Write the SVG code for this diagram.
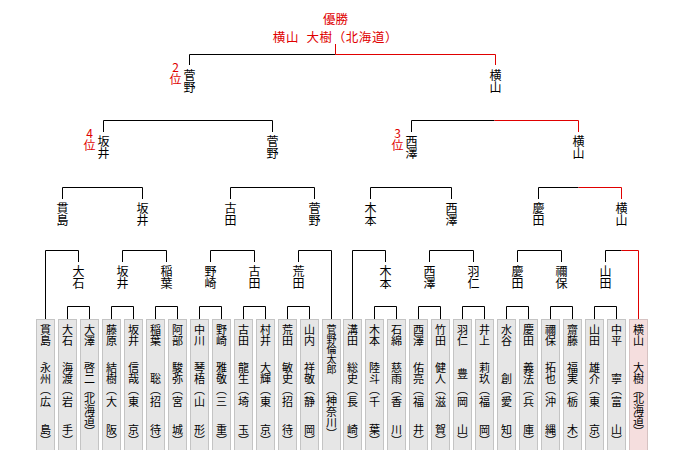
<svg xmlns="http://www.w3.org/2000/svg" width="680" height="450" viewBox="0 0 680 450">
<style>
.bx{fill:#e6e6e6;stroke:#c4c4c4;stroke-width:1}
.wb{fill:#f5dede;stroke:#d6c2c2;stroke-width:1}
.ln{fill:none;stroke:#000;stroke-width:1}
.rd{fill:none;stroke:#e00000;stroke-width:1}
text{font-family:"Noto Sans CJK JP","Noto Sans CJK SC",sans-serif;fill:#000}
.v{writing-mode:vertical-rl;text-anchor:start}
.nm{font-size:11px}
.sm{font-size:10px}
.lb{font-size:12px}
.rk{font-size:12px;fill:#e00000;text-orientation:upright}
.hd{font-size:12.5px;fill:#e00000;text-anchor:middle}
</style>
<rect width="680" height="450" fill="#fff"/>
<g id="connectors">
<path class="ln" d="M67.5 319V306.5H89.5V319M111.5 319V306.5H133.5V319M155.5 319V306.5H177.5V319M199.5 319V306.5H221.5V319M243.5 319V306.5H265.5V319M287.5 319V306.5H309.5V319M374.5 319V306.5H396.5V319M418.5 319V306.5H440.5V319M462.5 319V306.5H484.5V319M506.5 319V306.5H528.5V319M550.5 319V306.5H572.5V319M594.5 319V306.5H616.5V319"/>
<path class="ln" d="M45.5 319V250.5H78.5V262M122.5 262V250.5H166.5V262M210.5 262V250.5H254.5V262M298.5 262V250.5H331.5V319M352.5 319V250.5H385.5V262M429.5 262V250.5H473.5V262M517.5 262V250.5H561.5V262M605.5 262V250.5H621.5"/>
<path class="rd" d="M621.5 250.5H638.5V319"/>
<path class="ln" d="M62.5 199V187.5H142.5V199M230.5 199V187.5H314.5V199M370.5 199V187.5H451.5V199M538.5 199V187.5H578.5"/>
<path class="rd" d="M578.5 187.5H621.5V199"/>
<path class="ln" d="M103.5 132V120.5H272.5V132M411.5 132V120.5H494.5"/>
<path class="rd" d="M494.5 120.5H578.5V132"/>
<path class="ln" d="M189.5 65V54.5H335.5"/>
<path class="rd" d="M335.5 54.5H495.5V65M335.5 54.5V44"/>
</g>
<g id="champion"><text class="hd"><tspan x="335.5" y="23.5">優勝</tspan><tspan x="335.5" y="41.5" word-spacing="4" letter-spacing="0.6">横山 大樹（北海道）</tspan></text></g>
<g id="f1"><text class="rk v"><tspan x="175.5" y="61">2</tspan><tspan x="175.5" y="73">位</tspan></text><text class="lb v"><tspan x="189.5" y="69.5">菅</tspan><tspan x="189.5" y="81.5">野</tspan></text></g>
<g id="f2"><text class="lb v"><tspan x="495.5" y="69.5">横</tspan><tspan x="495.5" y="81.5">山</tspan></text></g>
<g id="s1"><text class="rk v"><tspan x="89.5" y="127">4</tspan><tspan x="89.5" y="139">位</tspan></text><text class="lb v"><tspan x="103.5" y="135.5">坂</tspan><tspan x="103.5" y="147.5">井</tspan></text></g>
<g id="s2"><text class="lb v"><tspan x="272.5" y="135.5">菅</tspan><tspan x="272.5" y="147.5">野</tspan></text></g>
<g id="s3"><text class="rk v"><tspan x="397.5" y="127">3</tspan><tspan x="397.5" y="139">位</tspan></text><text class="lb v"><tspan x="411.5" y="135.5">西</tspan><tspan x="411.5" y="147.5">澤</tspan></text></g>
<g id="s4"><text class="lb v"><tspan x="578.5" y="135.5">横</tspan><tspan x="578.5" y="147.5">山</tspan></text></g>
<g id="q1"><text class="lb v"><tspan x="62.5" y="202">貫</tspan><tspan x="62.5" y="214">島</tspan></text></g>
<g id="q2"><text class="lb v"><tspan x="142.5" y="202">坂</tspan><tspan x="142.5" y="214">井</tspan></text></g>
<g id="q3"><text class="lb v"><tspan x="230.5" y="202">古</tspan><tspan x="230.5" y="214">田</tspan></text></g>
<g id="q4"><text class="lb v"><tspan x="314.5" y="202">菅</tspan><tspan x="314.5" y="214">野</tspan></text></g>
<g id="q5"><text class="lb v"><tspan x="370.5" y="202">木</tspan><tspan x="370.5" y="214">本</tspan></text></g>
<g id="q6"><text class="lb v"><tspan x="451.5" y="202">西</tspan><tspan x="451.5" y="214">澤</tspan></text></g>
<g id="q7"><text class="lb v"><tspan x="538.5" y="202">慶</tspan><tspan x="538.5" y="214">田</tspan></text></g>
<g id="q8"><text class="lb v"><tspan x="621.5" y="202">横</tspan><tspan x="621.5" y="214">山</tspan></text></g>
<g id="r1"><text class="lb v"><tspan x="78.5" y="265.5">大</tspan><tspan x="78.5" y="277.5">石</tspan></text></g>
<g id="r2"><text class="lb v"><tspan x="122.5" y="265.5">坂</tspan><tspan x="122.5" y="277.5">井</tspan></text></g>
<g id="r3"><text class="lb v"><tspan x="166.5" y="265.5">稲</tspan><tspan x="166.5" y="277.5">葉</tspan></text></g>
<g id="r4"><text class="lb v"><tspan x="210.5" y="265.5">野</tspan><tspan x="210.5" y="277.5">崎</tspan></text></g>
<g id="r5"><text class="lb v"><tspan x="254.5" y="265.5">古</tspan><tspan x="254.5" y="277.5">田</tspan></text></g>
<g id="r6"><text class="lb v"><tspan x="298.5" y="265.5">荒</tspan><tspan x="298.5" y="277.5">田</tspan></text></g>
<g id="r7"><text class="lb v"><tspan x="385.5" y="265.5">木</tspan><tspan x="385.5" y="277.5">本</tspan></text></g>
<g id="r8"><text class="lb v"><tspan x="429.5" y="265.5">西</tspan><tspan x="429.5" y="277.5">澤</tspan></text></g>
<g id="r9"><text class="lb v"><tspan x="473.5" y="265.5">羽</tspan><tspan x="473.5" y="277.5">仁</tspan></text></g>
<g id="r10"><text class="lb v"><tspan x="517.5" y="265.5">慶</tspan><tspan x="517.5" y="277.5">田</tspan></text></g>
<g id="r11"><text class="lb v"><tspan x="561.5" y="265.5">禰</tspan><tspan x="561.5" y="277.5">保</tspan></text></g>
<g id="r12"><text class="lb v"><tspan x="605.5" y="265.5">山</tspan><tspan x="605.5" y="277.5">田</tspan></text></g>
<g id="p0"><rect class="bx" x="36.5" y="319.5" width="18" height="140"/><text class="nm v"><tspan x="45.5" y="324.5">貫</tspan><tspan x="45.5" y="335.5">島</tspan><tspan x="45.5" y="362.5">永</tspan><tspan x="45.5" y="373.5">州</tspan><tspan x="45.5" y="384.5">︵</tspan><tspan x="45.5" y="396.5">広</tspan><tspan x="45.5" y="424.5">島</tspan><tspan x="45.5" y="435.5">︶</tspan></text></g>
<g id="p1"><rect class="bx" x="58.5" y="319.5" width="18" height="140"/><text class="nm v"><tspan x="67.5" y="324.5">大</tspan><tspan x="67.5" y="335.5">石</tspan><tspan x="67.5" y="362.5">海</tspan><tspan x="67.5" y="373.5">渡</tspan><tspan x="67.5" y="384.5">︵</tspan><tspan x="67.5" y="396.5">岩</tspan><tspan x="67.5" y="424.5">手</tspan><tspan x="67.5" y="435.5">︶</tspan></text></g>
<g id="p2"><rect class="bx" x="80.5" y="319.5" width="18" height="140"/><text class="nm v"><tspan x="89.5" y="324.5">大</tspan><tspan x="89.5" y="335.5">澤</tspan><tspan x="89.5" y="362.5">啓</tspan><tspan x="89.5" y="373.5">二</tspan><tspan x="89.5" y="384.5">︵</tspan><tspan x="89.5" y="393">北</tspan><tspan x="89.5" y="404">海</tspan><tspan x="89.5" y="415">道</tspan><tspan x="89.5" y="426">︶</tspan></text></g>
<g id="p3"><rect class="bx" x="102.5" y="319.5" width="18" height="140"/><text class="nm v"><tspan x="111.5" y="324.5">藤</tspan><tspan x="111.5" y="335.5">原</tspan><tspan x="111.5" y="362.5">結</tspan><tspan x="111.5" y="373.5">樹</tspan><tspan x="111.5" y="384.5">︵</tspan><tspan x="111.5" y="396.5">大</tspan><tspan x="111.5" y="424.5">阪</tspan><tspan x="111.5" y="435.5">︶</tspan></text></g>
<g id="p4"><rect class="bx" x="124.5" y="319.5" width="18" height="140"/><text class="nm v"><tspan x="133.5" y="324.5">坂</tspan><tspan x="133.5" y="335.5">井</tspan><tspan x="133.5" y="362.5">信</tspan><tspan x="133.5" y="373.5">哉</tspan><tspan x="133.5" y="384.5">︵</tspan><tspan x="133.5" y="396.5">東</tspan><tspan x="133.5" y="424.5">京</tspan><tspan x="133.5" y="435.5">︶</tspan></text></g>
<g id="p5"><rect class="bx" x="146.5" y="319.5" width="18" height="140"/><text class="nm v"><tspan x="155.5" y="324.5">稲</tspan><tspan x="155.5" y="335.5">葉</tspan><tspan x="155.5" y="373.5">聡</tspan><tspan x="155.5" y="384.5">︵</tspan><tspan x="155.5" y="396.5">招</tspan><tspan x="155.5" y="424.5">待</tspan><tspan x="155.5" y="435.5">︶</tspan></text></g>
<g id="p6"><rect class="bx" x="168.5" y="319.5" width="18" height="140"/><text class="nm v"><tspan x="177.5" y="324.5">阿</tspan><tspan x="177.5" y="335.5">部</tspan><tspan x="177.5" y="362.5">駿</tspan><tspan x="177.5" y="373.5">弥</tspan><tspan x="177.5" y="384.5">︵</tspan><tspan x="177.5" y="396.5">宮</tspan><tspan x="177.5" y="424.5">城</tspan><tspan x="177.5" y="435.5">︶</tspan></text></g>
<g id="p7"><rect class="bx" x="190.5" y="319.5" width="18" height="140"/><text class="nm v"><tspan x="199.5" y="324.5">中</tspan><tspan x="199.5" y="335.5">川</tspan><tspan x="199.5" y="362.5">琴</tspan><tspan x="199.5" y="373.5">梧</tspan><tspan x="199.5" y="384.5">︵</tspan><tspan x="199.5" y="396.5">山</tspan><tspan x="199.5" y="424.5">形</tspan><tspan x="199.5" y="435.5">︶</tspan></text></g>
<g id="p8"><rect class="bx" x="212.5" y="319.5" width="18" height="140"/><text class="nm v"><tspan x="221.5" y="324.5">野</tspan><tspan x="221.5" y="335.5">崎</tspan><tspan x="221.5" y="362.5">雅</tspan><tspan x="221.5" y="373.5">敬</tspan><tspan x="221.5" y="384.5">︵</tspan><tspan x="221.5" y="396.5">三</tspan><tspan x="221.5" y="424.5">重</tspan><tspan x="221.5" y="435.5">︶</tspan></text></g>
<g id="p9"><rect class="bx" x="234.5" y="319.5" width="18" height="140"/><text class="nm v"><tspan x="243.5" y="324.5">古</tspan><tspan x="243.5" y="335.5">田</tspan><tspan x="243.5" y="362.5">龍</tspan><tspan x="243.5" y="373.5">生</tspan><tspan x="243.5" y="384.5">︵</tspan><tspan x="243.5" y="396.5">埼</tspan><tspan x="243.5" y="424.5">玉</tspan><tspan x="243.5" y="435.5">︶</tspan></text></g>
<g id="p10"><rect class="bx" x="256.5" y="319.5" width="18" height="140"/><text class="nm v"><tspan x="265.5" y="324.5">村</tspan><tspan x="265.5" y="335.5">井</tspan><tspan x="265.5" y="362.5">大</tspan><tspan x="265.5" y="373.5">輝</tspan><tspan x="265.5" y="384.5">︵</tspan><tspan x="265.5" y="396.5">東</tspan><tspan x="265.5" y="424.5">京</tspan><tspan x="265.5" y="435.5">︶</tspan></text></g>
<g id="p11"><rect class="bx" x="278.5" y="319.5" width="18" height="140"/><text class="nm v"><tspan x="287.5" y="324.5">荒</tspan><tspan x="287.5" y="335.5">田</tspan><tspan x="287.5" y="362.5">敏</tspan><tspan x="287.5" y="373.5">史</tspan><tspan x="287.5" y="384.5">︵</tspan><tspan x="287.5" y="396.5">招</tspan><tspan x="287.5" y="424.5">待</tspan><tspan x="287.5" y="435.5">︶</tspan></text></g>
<g id="p12"><rect class="bx" x="300.5" y="319.5" width="18" height="140"/><text class="nm v"><tspan x="309.5" y="324.5">山</tspan><tspan x="309.5" y="335.5">内</tspan><tspan x="309.5" y="362.5">祥</tspan><tspan x="309.5" y="373.5">敬</tspan><tspan x="309.5" y="384.5">︵</tspan><tspan x="309.5" y="396.5">静</tspan><tspan x="309.5" y="424.5">岡</tspan><tspan x="309.5" y="435.5">︶</tspan></text></g>
<g id="p13"><rect class="bx" x="322.5" y="319.5" width="18" height="140"/><text class="sm v"><tspan x="331.5" y="324.5">菅</tspan><tspan x="331.5" y="334.5">野</tspan><tspan x="331.5" y="344.5">倫</tspan><tspan x="331.5" y="354.5">太</tspan><tspan x="331.5" y="364.5">郎</tspan></text><text class="nm v"><tspan x="331.5" y="384.5">︵</tspan><tspan x="331.5" y="395.5">神</tspan><tspan x="331.5" y="406.5">奈</tspan><tspan x="331.5" y="417.5">川</tspan><tspan x="331.5" y="428.5">︶</tspan></text></g>
<g id="p14"><rect class="bx" x="343.5" y="319.5" width="18" height="140"/><text class="nm v"><tspan x="352.5" y="324.5">溝</tspan><tspan x="352.5" y="335.5">田</tspan><tspan x="352.5" y="362.5">総</tspan><tspan x="352.5" y="373.5">史</tspan><tspan x="352.5" y="384.5">︵</tspan><tspan x="352.5" y="396.5">長</tspan><tspan x="352.5" y="424.5">崎</tspan><tspan x="352.5" y="435.5">︶</tspan></text></g>
<g id="p15"><rect class="bx" x="365.5" y="319.5" width="18" height="140"/><text class="nm v"><tspan x="374.5" y="324.5">木</tspan><tspan x="374.5" y="335.5">本</tspan><tspan x="374.5" y="362.5">陸</tspan><tspan x="374.5" y="373.5">斗</tspan><tspan x="374.5" y="384.5">︵</tspan><tspan x="374.5" y="396.5">千</tspan><tspan x="374.5" y="424.5">葉</tspan><tspan x="374.5" y="435.5">︶</tspan></text></g>
<g id="p16"><rect class="bx" x="387.5" y="319.5" width="18" height="140"/><text class="nm v"><tspan x="396.5" y="324.5">石</tspan><tspan x="396.5" y="335.5">綿</tspan><tspan x="396.5" y="362.5">慈</tspan><tspan x="396.5" y="373.5">雨</tspan><tspan x="396.5" y="384.5">︵</tspan><tspan x="396.5" y="396.5">香</tspan><tspan x="396.5" y="424.5">川</tspan><tspan x="396.5" y="435.5">︶</tspan></text></g>
<g id="p17"><rect class="bx" x="409.5" y="319.5" width="18" height="140"/><text class="nm v"><tspan x="418.5" y="324.5">西</tspan><tspan x="418.5" y="335.5">澤</tspan><tspan x="418.5" y="362.5">佑</tspan><tspan x="418.5" y="373.5">亮</tspan><tspan x="418.5" y="384.5">︵</tspan><tspan x="418.5" y="396.5">福</tspan><tspan x="418.5" y="424.5">井</tspan><tspan x="418.5" y="435.5">︶</tspan></text></g>
<g id="p18"><rect class="bx" x="431.5" y="319.5" width="18" height="140"/><text class="nm v"><tspan x="440.5" y="324.5">竹</tspan><tspan x="440.5" y="335.5">田</tspan><tspan x="440.5" y="362.5">健</tspan><tspan x="440.5" y="373.5">人</tspan><tspan x="440.5" y="384.5">︵</tspan><tspan x="440.5" y="396.5">滋</tspan><tspan x="440.5" y="424.5">賀</tspan><tspan x="440.5" y="435.5">︶</tspan></text></g>
<g id="p19"><rect class="bx" x="453.5" y="319.5" width="18" height="140"/><text class="nm v"><tspan x="462.5" y="324.5">羽</tspan><tspan x="462.5" y="335.5">仁</tspan><tspan x="462.5" y="368.5">豊</tspan><tspan x="462.5" y="384.5">︵</tspan><tspan x="462.5" y="396.5">岡</tspan><tspan x="462.5" y="424.5">山</tspan><tspan x="462.5" y="435.5">︶</tspan></text></g>
<g id="p20"><rect class="bx" x="475.5" y="319.5" width="18" height="140"/><text class="nm v"><tspan x="484.5" y="324.5">井</tspan><tspan x="484.5" y="335.5">上</tspan><tspan x="484.5" y="362.5">莉</tspan><tspan x="484.5" y="373.5">玖</tspan><tspan x="484.5" y="384.5">︵</tspan><tspan x="484.5" y="396.5">福</tspan><tspan x="484.5" y="424.5">岡</tspan><tspan x="484.5" y="435.5">︶</tspan></text></g>
<g id="p21"><rect class="bx" x="497.5" y="319.5" width="18" height="140"/><text class="nm v"><tspan x="506.5" y="324.5">水</tspan><tspan x="506.5" y="335.5">谷</tspan><tspan x="506.5" y="373.5">創</tspan><tspan x="506.5" y="384.5">︵</tspan><tspan x="506.5" y="396.5">愛</tspan><tspan x="506.5" y="424.5">知</tspan><tspan x="506.5" y="435.5">︶</tspan></text></g>
<g id="p22"><rect class="bx" x="519.5" y="319.5" width="18" height="140"/><text class="nm v"><tspan x="528.5" y="324.5">慶</tspan><tspan x="528.5" y="335.5">田</tspan><tspan x="528.5" y="362.5">義</tspan><tspan x="528.5" y="373.5">法</tspan><tspan x="528.5" y="384.5">︵</tspan><tspan x="528.5" y="396.5">兵</tspan><tspan x="528.5" y="424.5">庫</tspan><tspan x="528.5" y="435.5">︶</tspan></text></g>
<g id="p23"><rect class="bx" x="541.5" y="319.5" width="18" height="140"/><text class="nm v"><tspan x="550.5" y="324.5">禰</tspan><tspan x="550.5" y="335.5">保</tspan><tspan x="550.5" y="362.5">拓</tspan><tspan x="550.5" y="373.5">也</tspan><tspan x="550.5" y="384.5">︵</tspan><tspan x="550.5" y="396.5">沖</tspan><tspan x="550.5" y="424.5">縄</tspan><tspan x="550.5" y="435.5">︶</tspan></text></g>
<g id="p24"><rect class="bx" x="563.5" y="319.5" width="18" height="140"/><text class="nm v"><tspan x="572.5" y="324.5">齋</tspan><tspan x="572.5" y="335.5">藤</tspan><tspan x="572.5" y="362.5">福</tspan><tspan x="572.5" y="373.5">実</tspan><tspan x="572.5" y="384.5">︵</tspan><tspan x="572.5" y="396.5">栃</tspan><tspan x="572.5" y="424.5">木</tspan><tspan x="572.5" y="435.5">︶</tspan></text></g>
<g id="p25"><rect class="bx" x="585.5" y="319.5" width="18" height="140"/><text class="nm v"><tspan x="594.5" y="324.5">山</tspan><tspan x="594.5" y="335.5">田</tspan><tspan x="594.5" y="362.5">雄</tspan><tspan x="594.5" y="373.5">介</tspan><tspan x="594.5" y="384.5">︵</tspan><tspan x="594.5" y="396.5">東</tspan><tspan x="594.5" y="424.5">京</tspan><tspan x="594.5" y="435.5">︶</tspan></text></g>
<g id="p26"><rect class="bx" x="607.5" y="319.5" width="18" height="140"/><text class="nm v"><tspan x="616.5" y="324.5">中</tspan><tspan x="616.5" y="335.5">平</tspan><tspan x="616.5" y="373.5">寧</tspan><tspan x="616.5" y="384.5">︵</tspan><tspan x="616.5" y="396.5">富</tspan><tspan x="616.5" y="424.5">山</tspan><tspan x="616.5" y="435.5">︶</tspan></text></g>
<g id="p27"><rect class="wb" x="629.5" y="319.5" width="18" height="140"/><text class="nm v"><tspan x="638.5" y="324.5">横</tspan><tspan x="638.5" y="335.5">山</tspan><tspan x="638.5" y="362.5">大</tspan><tspan x="638.5" y="373.5">樹</tspan><tspan x="638.5" y="384.5">︵</tspan><tspan x="638.5" y="393">北</tspan><tspan x="638.5" y="404">海</tspan><tspan x="638.5" y="415">道</tspan><tspan x="638.5" y="426">︶</tspan></text></g>
</svg>
